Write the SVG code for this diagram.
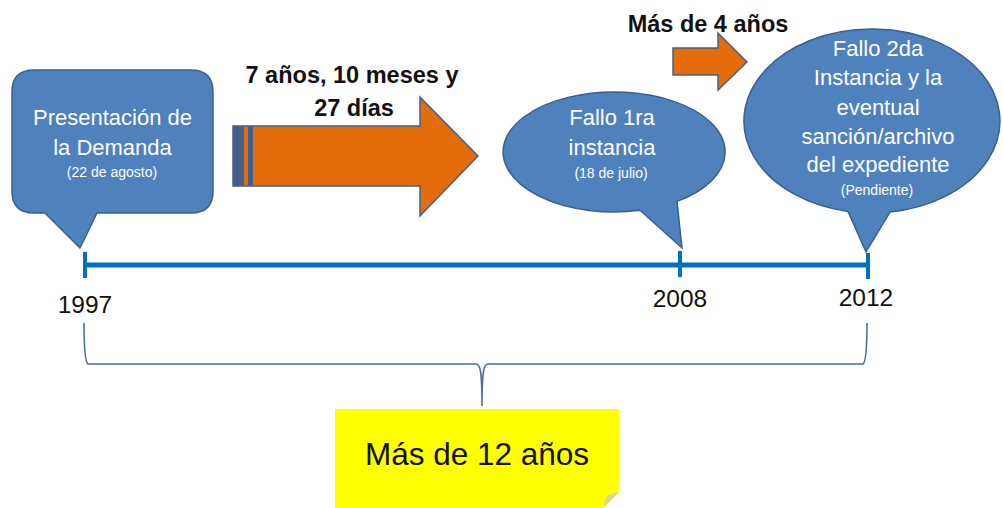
<svg xmlns="http://www.w3.org/2000/svg" width="1003" height="508" viewBox="0 0 1003 508">
<style>
.bub{fill:#4F81BD;stroke:#3A5F8E;stroke-width:1.5}
.arr{fill:#E46C0A;stroke:#41608A;stroke-width:1.5}
.bt{font-family:"Liberation Sans",Arial,sans-serif;font-size:22px;fill:#FFFFFF;text-anchor:middle}
.sm{font-family:"Liberation Sans",Arial,sans-serif;font-size:14px;fill:#FFFFFF;text-anchor:middle}
.bold{font-family:"Liberation Sans",Arial,sans-serif;font-weight:bold;font-size:23.5px;fill:#111111;text-anchor:middle}
.yr{font-family:"Liberation Sans",Arial,sans-serif;font-size:24.5px;fill:#111111;text-anchor:middle}
.tl{stroke:#0070C0;fill:none}
</style>
<rect width="1003" height="508" fill="#FFFFFF"/>
<g id="timeline">
<line class="tl" x1="84" y1="265" x2="868" y2="265" stroke-width="5"/>
<line class="tl" x1="85" y1="252" x2="85" y2="278" stroke-width="4"/>
<line class="tl" x1="680" y1="251" x2="680" y2="277" stroke-width="4"/>
<line class="tl" x1="868" y1="253" x2="868" y2="279" stroke-width="4"/>
<text class="yr" x="85" y="313">1997</text>
<text class="yr" x="680" y="307">2008</text>
<text class="yr" x="866" y="306">2012</text>
</g>
<g id="connectors">
<path d="M 84,323 C 84,345 85,362 88,364 L 476,364 C 480,364 482,370 482,406 C 482,370 484,364 488,364 L 863,364 C 866,362 867,345 867,323" fill="none" stroke="#4A6FA0" stroke-width="1.6"/>
</g>
<g id="node-presentacion">
<path class="bub" d="M 34,70 H 191 Q 213,70 213,92 V 191 Q 213,213 191,213 H 97 L 80,248 L 45,213 H 34 Q 12,213 12,191 V 92 Q 12,70 34,70 Z"/>
<text class="bt" x="112.5" y="125">Presentación de</text>
<text class="bt" x="112.5" y="155">la Demanda</text>
<text class="sm" x="112" y="177">(22 de agosto)</text>
</g>
<g id="node-arrow-7anos">
<polygon class="arr" points="233,126 420,126 420,97 478,156 420,216 420,186 233,186"/>
<rect x="233.5" y="126.5" width="10.5" height="59" fill="#41608A"/>
<rect x="248" y="126.5" width="5" height="59" fill="#41608A"/>
<text class="bold" x="352" y="83">7 años, 10 meses y</text>
<text class="bold" x="354" y="116">27 días</text>
</g>
<g id="node-fallo1">
<path class="bub" d="M 640,210.3 A 111 60 0 1 1 677,201.4 L 682,248 Z"/>
<text class="bt" x="612" y="125">Fallo 1ra</text>
<text class="bt" x="612" y="155">instancia</text>
<text class="sm" x="611" y="178">(18 de julio)</text>
</g>
<g id="node-arrow-4anos">
<polygon class="arr" points="673,48 718,48 718,33 747,62 718,90 718,75 673,75"/>
<text class="bold" x="708" y="32">Más de 4 años</text>
</g>
<g id="node-fallo2">
<path class="bub" d="M 848,211.4 A 128 92 0 1 1 890,212.1 L 866,252 Z"/>
<text class="bt" x="878" y="56">Fallo 2da</text>
<text class="bt" x="878" y="85">Instancia y la</text>
<text class="bt" x="878" y="115">eventual</text>
<text class="bt" x="878" y="144">sanción/archivo</text>
<text class="bt" x="878" y="172">del expediente</text>
<text class="sm" x="877" y="195">(Pendiente)</text>
</g>
<g id="node-total">
<polygon points="335,409 619,409 619,492 603,508 335,508" fill="#FFFF00"/>
<polygon points="619,492 603,508 607,495" fill="#D6D68C"/>
<text x="477" y="465" font-family="Liberation Sans, Arial, sans-serif" font-size="31.5" fill="#111111" text-anchor="middle">Más de 12 años</text>
</g>
</svg>
